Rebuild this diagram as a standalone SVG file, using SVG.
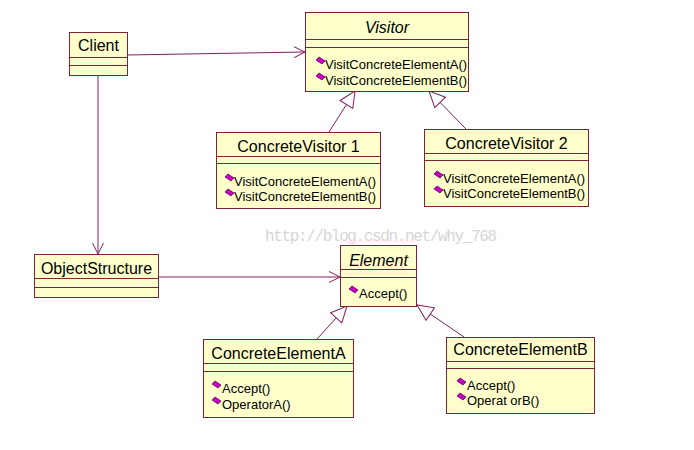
<svg xmlns="http://www.w3.org/2000/svg" width="694" height="450" viewBox="0 0 694 450">
<style>
.box{fill:#ffffcc;stroke:#80203a;stroke-width:1}
.div{stroke:#80203a;stroke-width:1}
.t{font-family:"Liberation Sans",Arial,sans-serif;font-size:16px;fill:#000;text-anchor:middle}
.ti{font-style:italic}
.m{font-family:"Liberation Sans",Arial,sans-serif;font-size:13px;fill:#000}
.ln{stroke:#80205a;stroke-width:1;fill:none}
.wm{font-family:"Liberation Mono","DejaVu Sans Mono",monospace;font-size:16px;fill:#d6d6d6}
</style>
<defs>
<marker id="open" viewBox="0 0 12 12" refX="11" refY="6" markerWidth="12" markerHeight="12" markerUnits="userSpaceOnUse" orient="auto">
<path d="M0,0.5 L11,6 L0,11.5" fill="none" stroke="#80205a" stroke-width="1"/>
</marker>
<marker id="tri" viewBox="0 0 18 18" refX="17" refY="9" markerWidth="18" markerHeight="18" markerUnits="userSpaceOnUse" orient="auto">
<path d="M1,1.5 L17,9 L1,16.5 Z" fill="#ffffff" stroke="#80205a" stroke-width="1"/>
</marker>
<path id="dm" d="M0,-1 L3,-4 L9,0 L6,3 Z" fill="#cc00cc" stroke="#5a0a50" stroke-width="0.8"/>
</defs>
<rect width="694" height="450" fill="#ffffff"/>
<text class="wm" x="265" y="241" textLength="232" lengthAdjust="spacing">http://blog.csdn.net/why_768</text>

<g id="connectors">
<line class="ln" x1="127" y1="55" x2="305" y2="52" marker-end="url(#open)"/>
<line class="ln" x1="98" y1="75" x2="98" y2="254" marker-end="url(#open)"/>
<line class="ln" x1="158" y1="277" x2="340" y2="277" marker-end="url(#open)"/>
<line class="ln" x1="329" y1="132" x2="355" y2="91" marker-end="url(#tri)"/>
<line class="ln" x1="466" y1="129" x2="429" y2="91" marker-end="url(#tri)"/>
<line class="ln" x1="317" y1="339" x2="347" y2="306" marker-end="url(#tri)"/>
<line class="ln" x1="464" y1="337" x2="417" y2="305" marker-end="url(#tri)"/>
</g>

<g id="Client">
<rect class="box" x="69.5" y="32.5" width="58" height="43"/>
<line class="div" x1="69.5" y1="57.5" x2="127.5" y2="57.5"/>
<line class="div" x1="69.5" y1="65.5" x2="127.5" y2="65.5"/>
<text class="t" x="98.5" y="51">Client</text>
</g>

<g id="Visitor">
<rect class="box" x="305.5" y="12.5" width="163" height="79"/>
<line class="div" x1="305.5" y1="39.5" x2="468.5" y2="39.5"/>
<line class="div" x1="305.5" y1="47.5" x2="468.5" y2="47.5"/>
<text class="t ti" x="387" y="33">Visitor</text>
<use href="#dm" x="316" y="61"/>
<text class="m" x="325" y="69">VisitConcreteElementA()</text>
<use href="#dm" x="316" y="77"/>
<text class="m" x="325" y="85">VisitConcreteElementB()</text>
</g>

<g id="ConcreteVisitor1">
<rect class="box" x="216.5" y="132.5" width="164" height="76"/>
<line class="div" x1="216.5" y1="156.5" x2="380.5" y2="156.5"/>
<line class="div" x1="216.5" y1="163.5" x2="380.5" y2="163.5"/>
<text class="t" x="298.5" y="152">ConcreteVisitor 1</text>
<use href="#dm" x="225" y="178"/>
<text class="m" x="234" y="186">VisitConcreteElementA()</text>
<use href="#dm" x="225" y="193"/>
<text class="m" x="234" y="201">VisitConcreteElementB()</text>
</g>

<g id="ConcreteVisitor2">
<rect class="box" x="424.5" y="129.5" width="164" height="77"/>
<line class="div" x1="424.5" y1="153.5" x2="588.5" y2="153.5"/>
<line class="div" x1="424.5" y1="160.5" x2="588.5" y2="160.5"/>
<text class="t" x="506.5" y="149">ConcreteVisitor 2</text>
<use href="#dm" x="434" y="175"/>
<text class="m" x="443" y="183">VisitConcreteElementA()</text>
<use href="#dm" x="434" y="190"/>
<text class="m" x="443" y="198">VisitConcreteElementB()</text>
</g>

<g id="ObjectStructure">
<rect class="box" x="34.5" y="254.5" width="124" height="43"/>
<line class="div" x1="34.5" y1="278.5" x2="158.5" y2="278.5"/>
<line class="div" x1="34.5" y1="287.5" x2="158.5" y2="287.5"/>
<text class="t" x="96.5" y="274">ObjectStructure</text>
</g>

<g id="Element">
<rect class="box" x="340.5" y="245.5" width="76" height="61"/>
<line class="div" x1="340.5" y1="269.5" x2="416.5" y2="269.5"/>
<line class="div" x1="340.5" y1="277.5" x2="416.5" y2="277.5"/>
<text class="t ti" x="378.5" y="266">Element</text>
<use href="#dm" x="349" y="290"/>
<text class="m" x="359" y="298">Accept()</text>
</g>

<g id="ConcreteElementA">
<rect class="box" x="203.5" y="339.5" width="150" height="78"/>
<line class="div" x1="203.5" y1="363.5" x2="353.5" y2="363.5"/>
<line class="div" x1="203.5" y1="371.5" x2="353.5" y2="371.5"/>
<text class="t" x="278.5" y="359">ConcreteElementA</text>
<use href="#dm" x="212" y="385"/>
<text class="m" x="222" y="393">Accept()</text>
<use href="#dm" x="212" y="401"/>
<text class="m" x="222" y="409">OperatorA()</text>
</g>

<g id="ConcreteElementB">
<rect class="box" x="446.5" y="337.5" width="148" height="76"/>
<line class="div" x1="446.5" y1="361.5" x2="594.5" y2="361.5"/>
<line class="div" x1="446.5" y1="368.5" x2="594.5" y2="368.5"/>
<text class="t" x="520.5" y="355">ConcreteElementB</text>
<use href="#dm" x="457" y="382"/>
<text class="m" x="467" y="390">Accept()</text>
<use href="#dm" x="457" y="397"/>
<text class="m" x="467" y="405">Operat orB()</text>
</g>
</svg>
